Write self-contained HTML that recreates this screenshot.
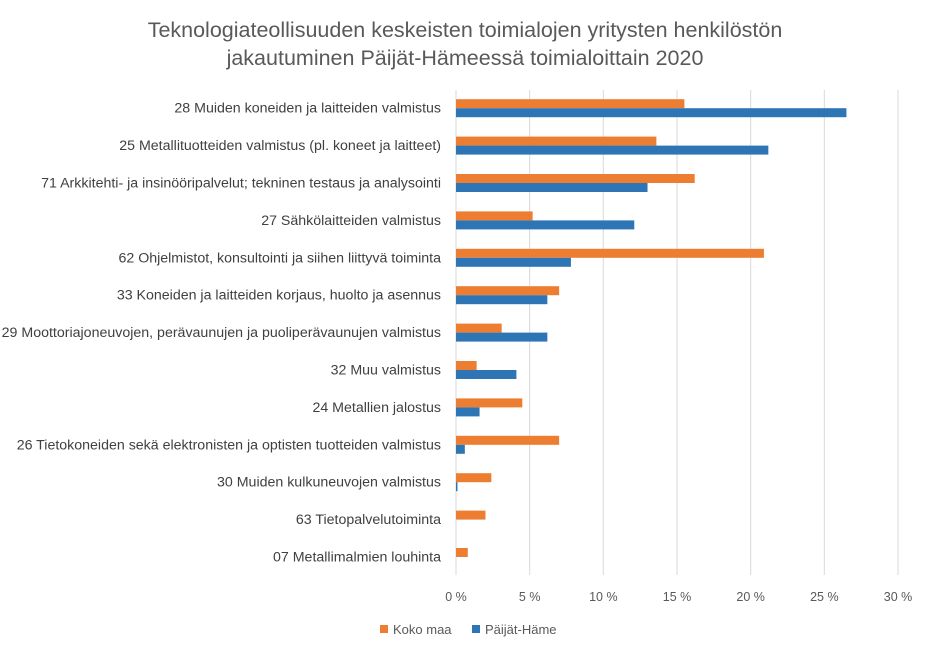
<!DOCTYPE html>
<html><head><meta charset="utf-8">
<style>
body{margin:0;background:#fff;font-family:"Liberation Sans",sans-serif;}
#wrap{position:relative;width:931px;height:653px;overflow:hidden;}
</style></head>
<body>
<div id="wrap">
<svg id="chart" width="931" height="653"></svg>
</div>
<script>
const categories=["28 Muiden koneiden ja laitteiden valmistus","25 Metallituotteiden valmistus (pl. koneet ja laitteet)","71 Arkkitehti- ja insinööripalvelut; tekninen testaus ja analysointi","27 Sähkölaitteiden valmistus","62 Ohjelmistot, konsultointi ja siihen liittyvä toiminta","33 Koneiden ja laitteiden korjaus, huolto ja asennus","29 Moottoriajoneuvojen, perävaunujen ja puoliperävaunujen valmistus","32 Muu valmistus","24 Metallien jalostus","26 Tietokoneiden sekä elektronisten ja optisten tuotteiden valmistus","30 Muiden kulkuneuvojen valmistus","63 Tietopalvelutoiminta","07 Metallimalmien louhinta"];
const kokoMaa=[15.5,13.6,16.2,5.2,20.9,7.0,3.1,1.4,4.5,7.0,2.4,2.0,0.8];
const paijatHame=[26.5,21.2,13.0,12.1,7.8,6.2,6.2,4.1,1.6,0.6,0.1,0,0];
const ticks=[0,5,10,15,20,25,30];
const tickLabels=["0 %","5 %","10 %","15 %","20 %","25 %","30 %"];
const NS="http://www.w3.org/2000/svg";
const svg=document.getElementById('chart');
const x0=456,x1=898,vmax=30,top0=90,rowH=37.4;
const xs=v=>x0+(v/vmax)*(x1-x0);
const rowC=i=>top0+rowH*i+rowH/2;
function mk(t,a){const e=document.createElementNS(NS,t);for(const k in a)e.setAttribute(k,a[k]);svg.appendChild(e);return e;}
const t1=mk('text',{x:465,y:37,'text-anchor':'middle','font-size':'21.5','fill':'#595959'});
t1.textContent="Teknologiateollisuuden keskeisten toimialojen yritysten henkilöstön";


const t2=mk('text',{x:465,y:65,'text-anchor':'middle','font-size':'21.5','fill':'#595959'});
t2.textContent="jakautuminen Päijät-Hämeessä toimialoittain 2020";


ticks.forEach((v,i)=>{
 const g=mk('line',{x1:xs(v),x2:xs(v),y1:90,y2:575,stroke:'#d9d9d9','stroke-width':1});
 
 
 const tl=mk('text',{x:xs(v),y:601,'text-anchor':'middle','font-size':'12.5','fill':'#595959'});
 tl.textContent=tickLabels[i];
 
 
});
categories.forEach((c,i)=>{
 const cy=rowC(i);
 const lb=mk('text',{x:441,y:cy+4,'text-anchor':'end','font-size':'14.2','fill':'#404040'});
 lb.textContent=c;
 
 
 const o=mk('rect',{x:x0,y:cy-9.5,width:Math.max(0,xs(kokoMaa[i])-x0),height:9,fill:'#ed7d31'});
 
 
 const b=mk('rect',{x:x0,y:cy-0.5,width:Math.max(0,xs(paijatHame[i])-x0),height:9,fill:'#2e75b6'});
 
 
});
const l1=mk('rect',{x:380,y:625,width:8,height:8,fill:'#ed7d31'});


const lt1=mk('text',{x:393,y:634,'font-size':'13','fill':'#595959'});
lt1.textContent="Koko maa";


const l2=mk('rect',{x:472,y:625,width:8,height:8,fill:'#2e75b6'});


const lt2=mk('text',{x:485,y:634,'font-size':'13','fill':'#595959'});
lt2.textContent="Päijät-Häme";


</script>
</body></html>
